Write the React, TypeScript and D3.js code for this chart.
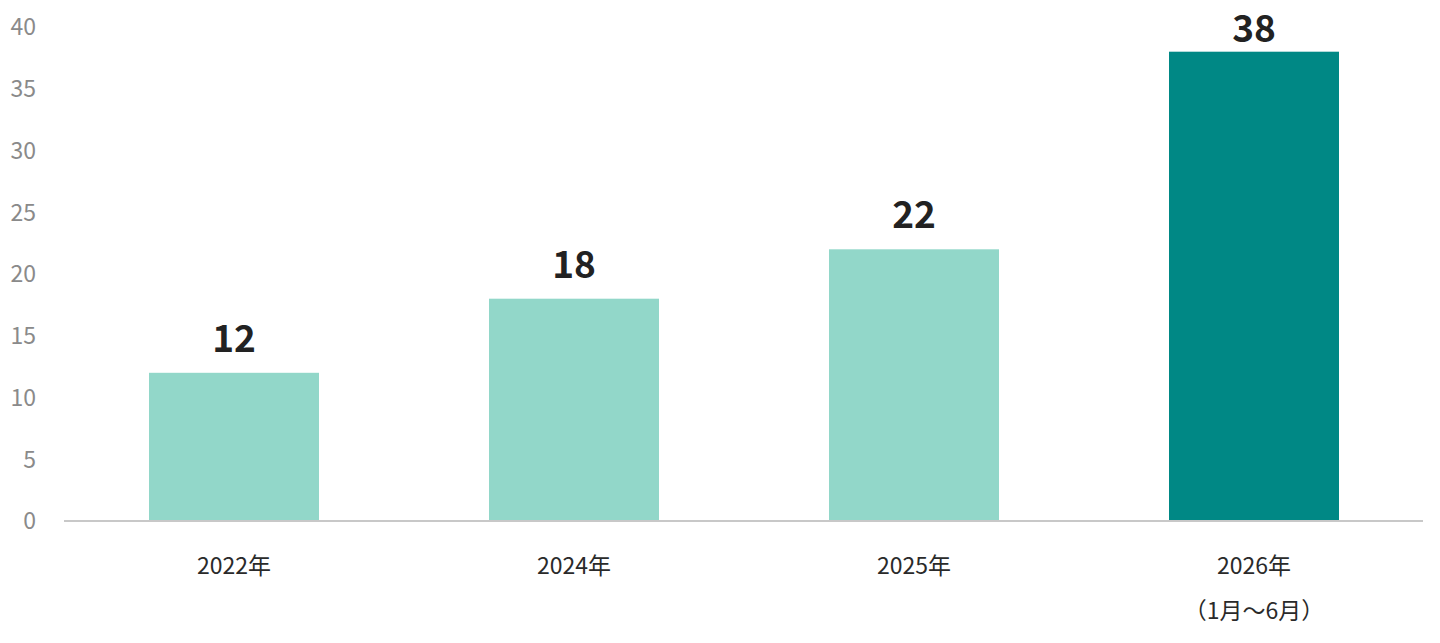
import React from 'react';
import * as d3 from 'd3';

const categories = ['2022年', '2024年', '2025年', '2026年'];
const subLabels = ['', '', '', '（1月～6月）'];
const values = [12, 18, 22, 38];
const yTicks = [0, 5, 10, 15, 20, 25, 30, 35, 40];

const FONT = '"Noto Sans CJK JP", "Noto Sans", sans-serif';

const App = () => {
  const width = 1440;
  const height = 643;

  const x = d3.scaleBand<string>()
    .domain(categories)
    .range([64, 1424])
    .paddingInner(0.5)
    .paddingOuter(0.25);

  const y = d3.scaleLinear()
    .domain([0, 40])
    .range([521, 27]);

  // value labels sit above the bar, but never above the top of the plot
  const labelY = (v: number) => Math.max(y(v) - 21, 42);

  return (
    <svg
      width={width}
      height={height}
      style={{ position: 'absolute', left: 0, top: 0, background: '#fff' }}
      fontFamily={FONT}
    >
      {/* y tick labels */}
      {yTicks.map(t => (
        <text
          key={t}
          x={36}
          y={y(t)}
          dy="0.36em"
          textAnchor="end"
          fontSize={23}
          fill="#8a8a8a"
        >
          {t}
        </text>
      ))}

      {/* bars */}
      {categories.map((c, i) => (
        <rect
          key={c}
          x={x(c)}
          y={y(values[i])}
          width={x.bandwidth()}
          height={y(0) - y(values[i])}
          fill={i === categories.length - 1 ? '#008885' : '#92d7c9'}
        />
      ))}

      {/* baseline */}
      <line x1={64} x2={1423} y1={y(0)} y2={y(0)} stroke="#c8c8c8" strokeWidth={2} />

      {/* value labels */}
      {categories.map((c, i) => (
        <text
          key={c}
          x={x(c)! + x.bandwidth() / 2}
          y={labelY(values[i])}
          textAnchor="middle"
          fontSize={37}
          fontWeight={700}
          fill="#222"
        >
          {values[i]}
        </text>
      ))}

      {/* category labels */}
      {categories.map((c, i) => (
        <g key={c}>
          <text
            x={x(c)! + x.bandwidth() / 2}
            y={574}
            textAnchor="middle"
            fontSize={23}
            fill="#2a2a2a"
          >
            {c}
          </text>
          {subLabels[i] && (
            <text
              x={x(c)! + x.bandwidth() / 2}
              y={619}
              textAnchor="middle"
              fontSize={23}
              fill="#2a2a2a"
            >
              {subLabels[i]}
            </text>
          )}
        </g>
      ))}
    </svg>
  );
};

export default App;
